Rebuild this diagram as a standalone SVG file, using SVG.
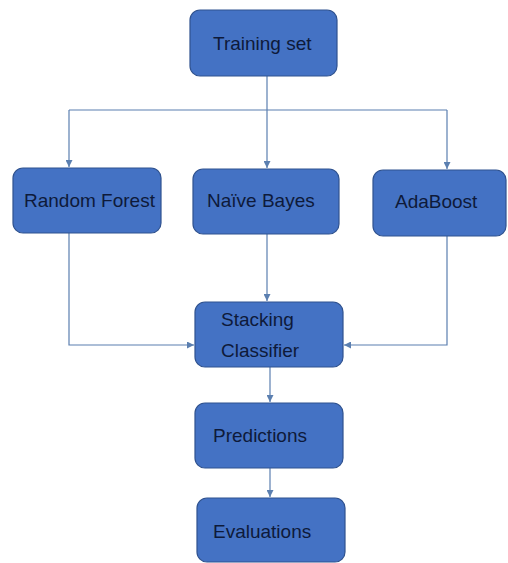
<svg xmlns="http://www.w3.org/2000/svg" width="508" height="563" viewBox="0 0 508 563">
<style>
.box{fill:#4472C4;stroke:#2F528F;stroke-width:1.2}
.lbl{font-family:"Liberation Sans",Arial,sans-serif;font-size:19px;fill:#0E1A3A}
.conn{fill:none;stroke:#5B7FB0;stroke-width:1.2}
</style>
<defs>
<marker id="arr" viewBox="0 0 10 10" refX="10" refY="5" markerWidth="7" markerHeight="7" markerUnits="userSpaceOnUse" orient="auto">
<path d="M0,0 L10,5 L0,10 z" fill="#5B7FB0"/>
</marker>
</defs>
<rect width="508" height="563" fill="#FFFFFF"/>
<g id="connectors">
<path class="conn" d="M267,76 V168" marker-end="url(#arr)"/>
<path class="conn" d="M69,110 H447"/>
<path class="conn" d="M69,110 V167" marker-end="url(#arr)"/>
<path class="conn" d="M447,110 V169" marker-end="url(#arr)"/>
<path class="conn" d="M69,233 V345 H194" marker-end="url(#arr)"/>
<path class="conn" d="M267,234 V301" marker-end="url(#arr)"/>
<path class="conn" d="M447,236 V345 H344" marker-end="url(#arr)"/>
<path class="conn" d="M270,367 V402" marker-end="url(#arr)"/>
<path class="conn" d="M270,468 V497" marker-end="url(#arr)"/>
</g>
<g id="training-set">
<rect class="box" x="190" y="10" width="147" height="66" rx="10"/>
<text class="lbl" x="213" y="50">Training set</text>
</g>
<g id="random-forest">
<rect class="box" x="13" y="168" width="148" height="65" rx="10"/>
<text class="lbl" x="24" y="207">Random Forest</text>
</g>
<g id="naive-bayes">
<rect class="box" x="193" y="169" width="146" height="65" rx="10"/>
<text class="lbl" x="207" y="207">Naïve Bayes</text>
</g>
<g id="adaboost">
<rect class="box" x="373" y="170" width="133" height="66" rx="10"/>
<text class="lbl" x="395" y="208">AdaBoost</text>
</g>
<g id="stacking-classifier">
<rect class="box" x="195" y="302" width="148" height="65" rx="10"/>
<text class="lbl" x="221" y="326">Stacking</text>
<text class="lbl" x="221" y="357">Classifier</text>
</g>
<g id="predictions">
<rect class="box" x="195" y="403" width="148" height="65" rx="10"/>
<text class="lbl" x="213" y="442">Predictions</text>
</g>
<g id="evaluations">
<rect class="box" x="197" y="498" width="148" height="64" rx="10"/>
<text class="lbl" x="213" y="538">Evaluations</text>
</g>
</svg>
